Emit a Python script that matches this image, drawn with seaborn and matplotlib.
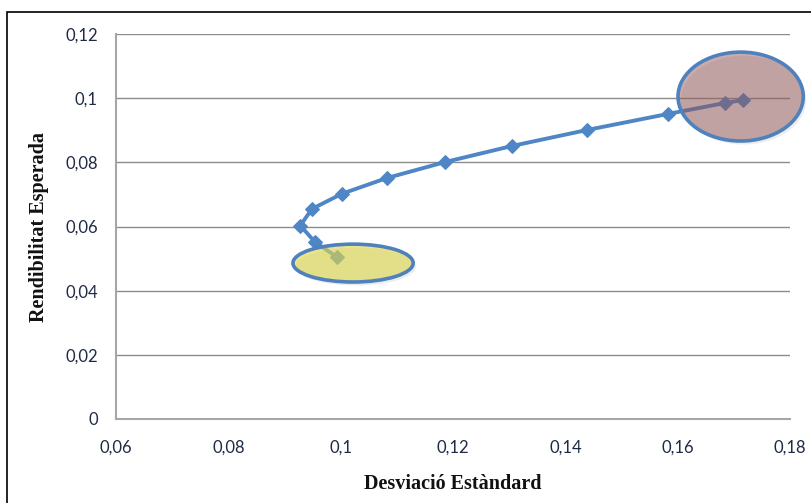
import matplotlib
matplotlib.use("Agg")
import matplotlib.pyplot as plt
import seaborn as sns
import pandas as pd
from matplotlib.patches import Ellipse, Rectangle

# Efficient frontier: standard deviation vs expected return
desviacio = [0.0993, 0.0954, 0.0928, 0.0949, 0.1002, 0.1082, 0.1186, 0.1305, 0.1439, 0.1583, 0.1684, 0.1716]
rendibilitat = [0.0505, 0.0552, 0.0603, 0.0655, 0.0702, 0.0751, 0.0801, 0.0851, 0.0901, 0.0951, 0.0985, 0.0994]

x_ticks = [0.06, 0.08, 0.10, 0.12, 0.14, 0.16, 0.18]
x_labels = ["0,06", "0,08", "0,1", "0,12", "0,14", "0,16", "0,18"]
y_ticks = [0.0, 0.02, 0.04, 0.06, 0.08, 0.10, 0.12]
y_labels = ["0", "0,02", "0,04", "0,06", "0,08", "0,1", "0,12"]

# Highlighted regions: (centre x, centre y, width, height)
min_var = (0.1022, 0.0486, 0.0214, 0.0118)
max_ret = (0.1712, 0.1005, 0.0223, 0.0277)

df = pd.DataFrame({"Desviació Estàndard": desviacio, "Rendibilitat Esperada": rendibilitat})

sns.set_theme(style="white")
plt.rcParams["font.family"] = ["Lato", "DejaVu Sans"]

fig = plt.figure(figsize=(8.12, 5.03), dpi=100)
ax = fig.add_axes([0.1429, 0.167, 0.8301, 0.7654])

# chart frame
fig.patches.append(Rectangle((7 / 812, -0.05), 1.1, (503 - 12) / 503 + 0.05,
                             transform=fig.transFigure, fill=False,
                             edgecolor="black", linewidth=1.2))

line_c = "#4F86C6"
sns.lineplot(data=df, x="Desviació Estàndard", y="Rendibilitat Esperada",
             sort=False, ax=ax, color=line_c, linewidth=2.8,
             marker="D", markersize=7, markeredgecolor=line_c,
             markerfacecolor=line_c, zorder=3)

def oval(spec, face, alpha):
    cx, cy, w, h = spec
    # soft drop shadow below the oval, kept under the gridlines
    ax.add_patch(Ellipse((cx + 0.0005, cy - 0.0011), w, h, facecolor="#888888",
                         edgecolor="none", alpha=0.15, zorder=0.3, clip_on=False))
    ax.add_patch(Ellipse((cx, cy), w, h, facecolor=face, edgecolor="none",
                         alpha=alpha, zorder=4, clip_on=False))
    ax.add_patch(Ellipse((cx, cy), w, h, facecolor="none", edgecolor="#4F81BD",
                         linewidth=2.6, zorder=5, clip_on=False))

oval(min_var, "#DED650", 0.64)
oval(max_ret, "#925250", 0.48)

ax.set_xlim(0.06, 0.18)
ax.set_ylim(0, 0.12)
ax.set_xticks(x_ticks)
ax.set_xticklabels(x_labels)
ax.set_yticks(y_ticks)
ax.set_yticklabels(y_labels)

ax.yaxis.grid(True, color="#8C8C8C", linewidth=1.0)
ax.xaxis.grid(False)
ax.set_axisbelow(True)
for side in ("top", "right"):
    ax.spines[side].set_visible(False)
for side in ("left", "bottom"):
    ax.spines[side].set_color("#A6A6A6")
    ax.spines[side].set_linewidth(1.5)

ax.tick_params(axis="both", which="major", direction="out", length=6,
               width=1.0, color="#A6A6A6", labelsize=12, labelcolor="#1F2A44")
ax.tick_params(axis="x", pad=9)
ax.tick_params(axis="y", pad=7)

ax.set_xlabel("Desviació Estàndard", fontsize=14.5, fontweight="bold",
              family=["Liberation Serif", "DejaVu Serif"], labelpad=13, color="#111111")
ax.set_ylabel("Rendibilitat Esperada", fontsize=14.5, fontweight="bold",
              family=["Liberation Serif", "DejaVu Serif"], labelpad=12, color="#111111")

fig.savefig("out.png", dpi=100)
